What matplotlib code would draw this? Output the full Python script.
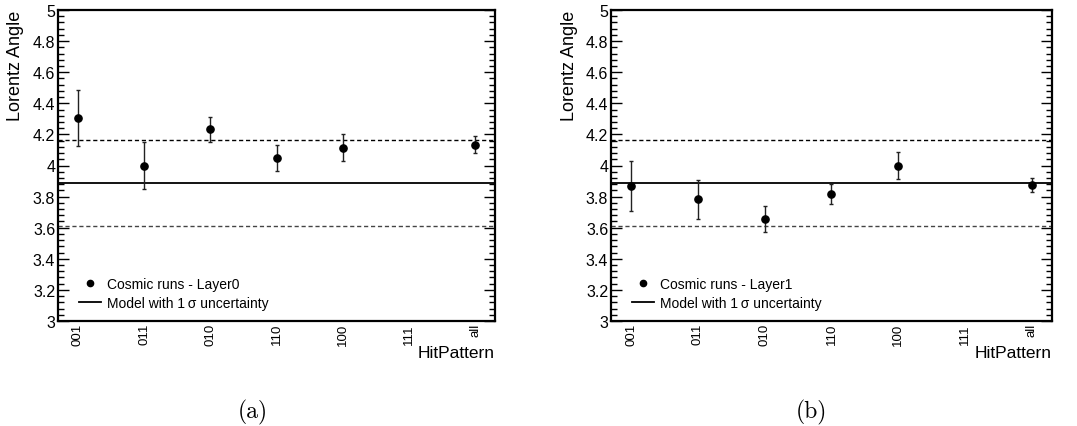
import matplotlib
matplotlib.use("Agg")
import matplotlib.pyplot as plt
from matplotlib.ticker import MultipleLocator, FuncFormatter
from matplotlib.lines import Line2D

plt.rcParams['font.family'] = ['Liberation Sans', 'DejaVu Sans']

categories = ["001", "011", "010", "110", "100", "111", "all"]

# Layer0 (panel a); None = no measurement
layer0_vals = [4.305, 4.000, 4.232, 4.050, 4.115, None, 4.135]
layer0_errs = [0.178, 0.153, 0.082, 0.085, 0.085, None, 0.052]
# Layer1 (panel b)
layer1_vals = [3.870, 3.782, 3.656, 3.818, 4.000, None, 3.877]
layer1_errs = [0.161, 0.127, 0.082, 0.066, 0.085, None, 0.045]

model_value = 3.886
model_sigma = 0.276

labels = ["Cosmic runs - Layer0", "Cosmic runs - Layer1"]
captions = ["(a)", "(b)"]

W, H = 1077, 427
fig = plt.figure(figsize=(W / 100, H / 100), dpi=100)

axes_px = [(58, 495), (611, 1052)]
top_px, bot_px = 11, 322
ylabel_x = [16, 570]
caption_x = [253, 811]

for i, (vals, errs) in enumerate([(layer0_vals, layer0_errs), (layer1_vals, layer1_errs)]):
    x0, x1 = axes_px[i]
    ax = fig.add_axes([x0 / W, 1 - bot_px / H, (x1 - x0) / W, (bot_px - top_px) / H])
    xs = [k for k, v in enumerate(vals) if v is not None]
    ys = [v for v in vals if v is not None]
    es = [e for e in errs if e is not None]
    ax.errorbar(xs, ys, yerr=es, fmt='o', color='black', ms=5.2, elinewidth=1.0,
                capsize=1.2, capthick=1.0, ecolor='#222222', zorder=3)
    ax.axhline(model_value, color='black', lw=1.3, zorder=2)
    ax.axhline(model_value + model_sigma, color='black', lw=1.0, ls=(0, (3, 2)), zorder=2)
    ax.axhline(model_value - model_sigma, color='#444444', lw=1.0, ls=(0, (3, 2)), zorder=2)

    ax.set_xlim(-0.3, len(categories) - 0.7)
    ax.set_ylim(3, 5)
    ax.set_xticks(range(len(categories)))
    ax.set_xticklabels(categories, rotation=90, fontsize=9.5)
    ax.tick_params(axis='x', length=0, pad=1.5)
    ax.yaxis.set_major_locator(MultipleLocator(0.2))
    ax.yaxis.set_minor_locator(MultipleLocator(0.04))
    ax.yaxis.set_major_formatter(FuncFormatter(lambda v, p: f"{v:g}"))
    ax.tick_params(axis='y', which='major', direction='in', length=8.0, width=1.0,
                   left=True, right=True, labelsize=11.5, pad=2)
    ax.tick_params(axis='y', which='minor', direction='in', length=4.0, width=1.0,
                   left=True, right=True)
    for s in ax.spines.values():
        s.set_linewidth(1.6)

    fig.text(ylabel_x[i] / W, 1 - top_px / H, "Lorentz Angle", rotation=90,
             ha='center', va='top', fontsize=13)
    fig.text(x1 / W, 1 - 353 / H, "HitPattern", ha='right', va='center', fontsize=12.5)

    handles = [Line2D([], [], marker='o', ls='none', color='black', ms=4.5),
               Line2D([], [], color='black', lw=1.3)]
    ax.legend(handles, [labels[i], "Model with 1\u2009\u03c3 uncertainty"], loc='lower left',
              bbox_to_anchor=(0.025, 0.005), frameon=False, fontsize=10,
              handlelength=1.6, handletextpad=0.45, labelspacing=0.35, borderpad=0.2)

    fig.text(caption_x[i] / W, 1 - 412 / H, captions[i], ha='center', va='center',
             fontsize=17, family=['cmr10', 'DejaVu Serif'])

fig.savefig("out.png", dpi=100)
